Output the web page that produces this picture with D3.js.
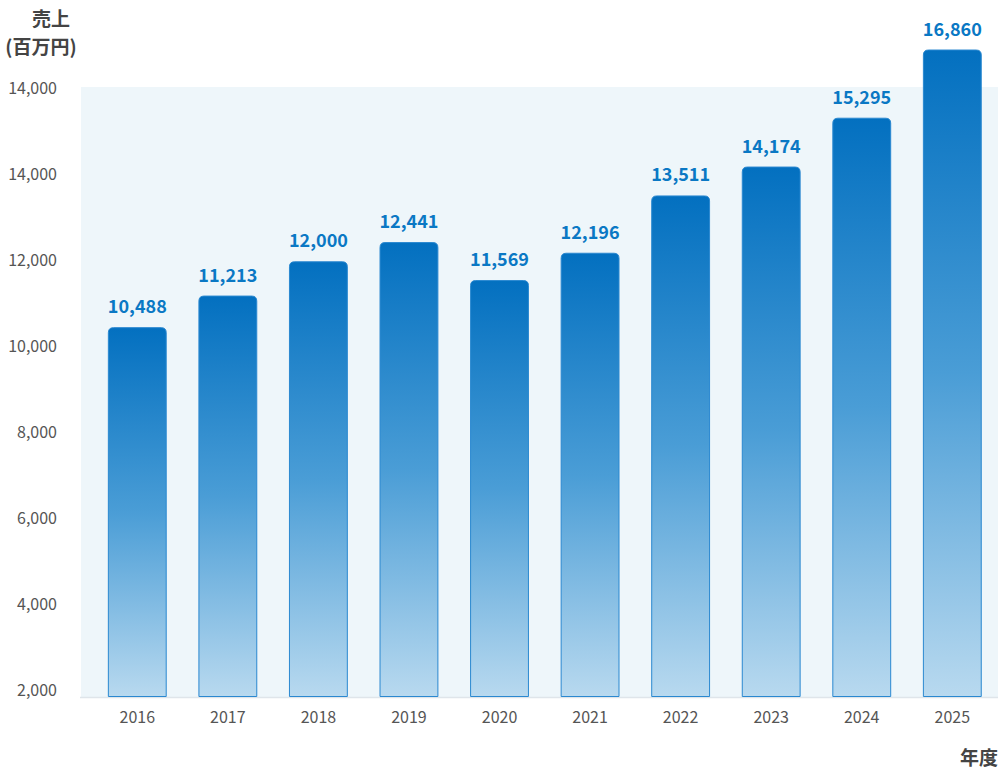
<!DOCTYPE html>
<html>
<head>
<meta charset="utf-8">
<script src="https://cdn.jsdelivr.net/npm/d3@7"></script>
<style>
  html, body { margin: 0; padding: 0; background: #fff; }
  svg { display: block; font-family: "Noto Sans CJK JP", "Noto Sans", sans-serif; }
</style>
</head>
<body>
<svg id="chart" width="1000" height="772"></svg>
<script>
const years = ["2016","2017","2018","2019","2020","2021","2022","2023","2024","2025"];
const sales = [10488, 11213, 12000, 12441, 11569, 12196, 13511, 14174, 15295, 16860];
const tickValues = [2000, 4000, 6000, 8000, 10000, 12000, 14000, 16000];
const tickLabels = ["2,000","4,000","6,000","8,000","10,000","12,000","14,000","14,000"];
const yTitle1 = "売上";
const yTitle2 = "(百万円)";
const xTitle = "年度";

const svg = d3.select("#chart");

const plot = { left: 81, right: 998, top: 87, bottom: 697 };

const y = d3.scaleLinear().domain([2000, 16000]).range([plot.bottom, plot.top]);
const yLabel = d3.scaleLinear().domain([2000, 16000]).range([690, 88]);
const x = d3.scaleBand().domain(years).range([92, 997.6]).paddingInner(0.35).paddingOuter(0.175);

// gradient
const defs = svg.append("defs");
const grad = defs.append("linearGradient").attr("id", "barGrad")
  .attr("x1", 0).attr("y1", 0).attr("x2", 0).attr("y2", 1);
grad.append("stop").attr("offset", "0%").attr("stop-color", "#0370c0");
grad.append("stop").attr("offset", "50%").attr("stop-color", "#4a9dd6");
grad.append("stop").attr("offset", "100%").attr("stop-color", "#b8d9ef");

// plot background
svg.append("rect")
  .attr("x", plot.left).attr("y", y(16000))
  .attr("width", plot.right - plot.left).attr("height", y(2000) - y(16000))
  .attr("fill", "#eef6fa");

// baseline
svg.append("line")
  .attr("x1", plot.left - 1).attr("x2", plot.right)
  .attr("y1", y(2000) + 0.5).attr("y2", y(2000) + 0.5)
  .attr("stroke", "#dfe5ea").attr("stroke-width", 1.5);

// y tick labels
svg.append("g").selectAll("text")
  .data(tickValues)
  .join("text")
  .attr("x", 57)
  .attr("y", d => yLabel(d))
  .attr("dy", "0.35em")
  .attr("text-anchor", "end")
  .attr("font-size", 16)
  .attr("fill", "#555")
  .text((d, i) => tickLabels[i]);

// bars with rounded top
const r = 5;
function barPath(d, i) {
  const x0 = x(years[i]) + 0.5, w = x.bandwidth() - 1;
  const top = y(d) + 0.5, bot = y(2000) - 0.5;
  return `M${x0},${bot} L${x0},${top + r} Q${x0},${top} ${x0 + r},${top} L${x0 + w - r},${top} Q${x0 + w},${top} ${x0 + w},${top + r} L${x0 + w},${bot} Z`;
}
svg.append("g").selectAll("path")
  .data(sales)
  .join("path")
  .attr("d", barPath)
  .attr("fill", "url(#barGrad)")
  .attr("stroke", "#2a88d0")
  .attr("stroke-width", 1);

// value labels
svg.append("g").selectAll("text")
  .data(sales)
  .join("text")
  .attr("x", (d, i) => x(years[i]) + x.bandwidth() / 2)
  .attr("y", d => y(d) - 14)
  .attr("text-anchor", "middle")
  .attr("font-size", 18)
  .attr("font-weight", "bold")
  .attr("fill", "#0a78c4")
  .text(d => d3.format(",")(d));

// x tick labels
svg.append("g").selectAll("text")
  .data(years)
  .join("text")
  .attr("x", d => x(d) + x.bandwidth() / 2)
  .attr("y", 717)
  .attr("dy", "0.35em")
  .attr("text-anchor", "middle")
  .attr("font-size", 16)
  .attr("fill", "#555")
  .text(d => d);

// axis titles
svg.append("text").attr("x", 51).attr("y", 19).attr("dy", "0.35em")
  .attr("text-anchor", "middle").attr("font-size", 19).attr("font-weight", "bold")
  .attr("fill", "#444").text(yTitle1);
svg.append("text").attr("x", 41).attr("y", 47).attr("dy", "0.35em")
  .attr("text-anchor", "middle").attr("font-size", 19).attr("font-weight", "bold")
  .attr("fill", "#444").text(yTitle2);
svg.append("text").attr("x", 998).attr("y", 758).attr("dy", "0.35em")
  .attr("text-anchor", "end").attr("font-size", 19).attr("font-weight", "bold")
  .attr("fill", "#444").text(xTitle);
</script>
</body>
</html>
